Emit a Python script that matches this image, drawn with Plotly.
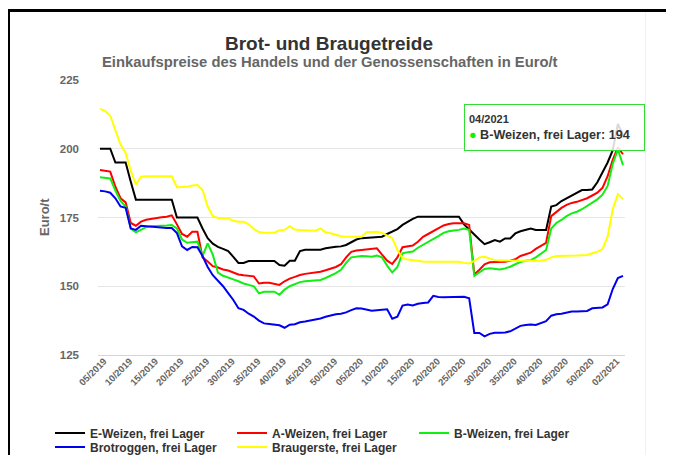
import plotly.graph_objects as go

# ---- categories (calendar weeks) ----
weeks = ([f"{w:02d}/2019" for w in range(5, 52)]
         + [f"{w:02d}/2020" for w in range(2, 54)]
         + [f"{w:02d}/2021" for w in range(1, 5)])

tick_labels = ["05/2019", "10/2019", "15/2019", "20/2019", "25/2019", "30/2019", "35/2019",
               "40/2019", "45/2019", "50/2019", "05/2020", "10/2020", "15/2020", "20/2020",
               "25/2020", "30/2020", "35/2020", "40/2020", "45/2020", "50/2020", "02/2021"]

y_ticks = [125, 150, 175, 200, 225]

e_weizen = [200, 200, 200, 195, 195, 195, 188, 181.5, 181.5, 181.5,
            181.5, 181.5, 181.5, 181.5, 181.5, 175, 175, 175, 175, 175,
            171, 167.5, 165.5, 164.3, 163.6, 162.8, 160.7, 158.5, 158.5, 159.2,
            159.2, 159.2, 159.2, 159.2, 159.2, 157.7, 157.5, 159.3, 159.3, 162.8,
            163.3, 163.3, 163.3, 163.3, 163.8, 164.2, 164.4, 164.5, 165, 166,
            167, 167.5, 167.6, 167.8, 168, 168, 169, 170, 170.8, 172.3,
            173.5, 174.5, 175.3, 175.3, 175.3, 175.3, 175.3, 175.3, 175.3, 175.3,
            175.3, 172.5, 170.5, 168.8, 167, 165.3, 166, 166.8, 166.2, 167.4,
            167.4, 169.2, 170, 170.5, 171, 170.5, 170.5, 170.5, 179, 179.5,
            181, 182, 183, 184, 185, 185, 185.2, 187.8, 191.5, 195,
            199.5, 209, 205]

a_weizen = [192.3, 192, 191.7, 186.2, 182, 180.5, 173, 172, 173.5, 174.2,
            174.5, 175, 175.1, 175.3, 175.8, 172.5, 169, 168, 169.8, 169.8,
            160.5, 159, 157.3, 156.8, 156.1, 155.7, 155.1, 154.3, 154, 153.8,
            153.6, 151, 151.3, 151.3, 151, 150.5, 151.8, 152.8, 153.4, 154.1,
            154.5, 154.7, 154.9, 155.3, 155.8, 156.3, 157, 158, 160.5, 162.5,
            163, 163.2, 163.4, 163.6, 163.8, 161.5, 159.3, 158.1, 160.5, 164.2,
            164.4, 164.8, 166.2, 168, 169, 170, 171.2, 172.1, 172.6, 172.9,
            172.9, 172.9, 172.3, 154.3, 156, 158, 158.7, 158.8, 158.9, 158.9,
            159.3, 159.8, 161, 161.7, 162.2, 163.6, 164.8, 165.8, 175.5, 177,
            178.5, 179.6, 180.3, 180.7, 181.3, 182, 183, 184, 185.8, 190,
            196, 200.5, 198]

b_weizen = [189.6, 189.5, 189.2, 184.8, 181, 179, 171, 169.6, 170.5, 171.5,
            171.8, 172, 172, 172.1, 172.3, 171, 167, 165.8, 165.9, 166.2,
            161, 165.6, 161.5, 155, 153.8, 153, 152.5, 151.8, 151, 150.5,
            150, 147.4, 148, 148, 148, 146.9, 148.8, 150, 150.8, 151.5,
            151.8, 152, 152, 152.3, 153, 153.8, 154.8, 156, 158.5, 160.5,
            160.8, 161, 160.9, 160.7, 161.2, 160.5, 157.5, 155, 157, 162,
            162.4, 162.6, 164, 165, 166, 167, 168.2, 169.4, 170, 170.3,
            170.5, 171, 170.5, 153.8, 155, 156.3, 156.5, 156.3, 156.1, 156.5,
            157.1, 158, 158.8, 159.3, 159.5, 160.5, 162, 163.2, 171, 173,
            174.1, 175.5, 176.5, 177.1, 178, 179.2, 180.2, 181.6, 183.3, 186.5,
            194.5, 199.8, 194]

brotroggen = [184.7, 184.5, 184, 182, 179, 178.5, 171, 170.5, 172, 171.8,
              171.6, 171.4, 171.3, 171.2, 171.2, 169.3, 164.5, 163.2, 164.3, 164.2,
              161, 157, 154, 152, 150, 147.5, 145, 142, 141.4, 140,
              139, 137.5, 136.5, 136.3, 136.1, 135.8, 134.9, 136, 136.2, 136.9,
              137.2, 137.5, 137.9, 138.3, 138.9, 139.4, 139.8, 140, 140.5, 141.3,
              142, 141.9, 141.5, 141.1, 141.3, 141.5, 141.6, 138.2, 138.9, 143,
              143.4, 143, 143.6, 143.9, 144.1, 146.5, 146.1, 146, 146, 146,
              146, 146.2, 145.6, 133, 133, 131.8, 132.7, 133.1, 133.1, 133.2,
              133.6, 134.6, 135.6, 135.9, 136.1, 135.9, 136.6, 137.3, 139.3, 139.8,
              140, 140.4, 140.8, 140.8, 140.8, 141, 142, 142.1, 142.3, 143.4,
              149, 153, 153.8]

braugerste = [214.5, 213.8, 212, 207, 201.5, 198.5, 192, 187, 189.8, 190,
              190, 190, 190, 190, 190, 186, 186, 186.2, 186.6, 186.8,
              185, 179, 175.5, 174.8, 174.7, 174.7, 173.8, 173.5, 173.5, 172.5,
              170.8, 169.7, 169.5, 169.5, 169.5, 170.4, 170.5, 171.8, 170.6, 170.5,
              170.4, 170.3, 170.2, 171, 169.6, 169.3, 168.8, 168.2, 168, 168,
              168, 168, 169.6, 169.8, 169.8, 169.4, 168.5, 167.5, 163.2, 160.3,
              159.7, 159.4, 159.2, 159, 158.9, 158.9, 158.9, 158.9, 158.9, 158.9,
              158.9, 158.5, 158.3, 159.2, 160.5, 160.7, 160, 159.5, 159.4, 159.3,
              159.3, 159.3, 159.3, 159.3, 159.3, 159.3, 159.3, 159.6, 160.5, 161,
              161, 161, 161, 161.2, 161.3, 161.4, 162, 162.6, 163.5, 168,
              178, 183.5, 181.6]

series_names = ["E-Weizen, frei Lager", "A-Weizen, frei Lager", "B-Weizen, frei Lager",
                "Brotroggen, frei Lager", "Braugerste, frei Lager"]
series_values = [e_weizen, a_weizen, b_weizen, brotroggen, braugerste]
series_colors = ["#000000", "#ff0000", "#11ee11", "#0000ee", "#ffff00"]

FONT = "Liberation Sans, Arial, sans-serif"

# The page body has an 8px margin, so the figure sits at (8, 8) in the window.
OFF = 8
W, H = 674 - OFF, 455 - OFF
# plot area in window pixels
L, R, T, B = 98, 625, 80, 355

def px(x):   # window x -> paper x
    return (x - L) / (R - L)
def py(y):   # window y -> paper y
    return (B - y) / (B - T)
def cx(x):   # window x -> container x
    return (x - OFF) / W
def cy(y):   # window y -> container y
    return 1 - (y - OFF) / H

# legend entry positions (window px): left edge of entry, vertical centre of row
legend_pos = [(50, 433), (232, 433), (414, 433), (50, 447), (232, 447)]

fig = go.Figure()
layout_legends = {}
for k, (name, vals, col, pos) in enumerate(zip(series_names, series_values, series_colors, legend_pos)):
    lid = "legend" if k == 0 else f"legend{k + 1}"
    fig.add_trace(go.Scatter(x=weeks, y=vals, mode="lines", name=name, legend=lid,
                             line=dict(color=col, width=2)))
    layout_legends[lid] = dict(
        orientation="h", xref="container", yref="container",
        x=cx(pos[0]), y=cy(pos[1]), xanchor="left", yanchor="middle",
        font=dict(family=FONT, size=12, color="#333333", weight="bold"),
        bgcolor="rgba(0,0,0,0)")

fig.update_layout(
    width=W, height=H,
    margin=dict(l=L - OFF, r=W - (R - OFF), t=T - OFF, b=H - (B - OFF), autoexpand=False),
    paper_bgcolor="white", plot_bgcolor="white",
    font=dict(family=FONT),
    showlegend=True,
    xaxis=dict(type="category", categoryorder="array", categoryarray=weeks,
               range=[-0.39, len(weeks) - 1 + 0.39],
               tickmode="array", tickvals=tick_labels, ticktext=tick_labels,
               tickangle=-45, ticks="", showgrid=False, automargin=False,
               ticklabelshift=4, ticklabelstandoff=-4,
               showline=True, linecolor="#ccd6eb", linewidth=1,
               tickfont=dict(family=FONT, size=9.5, color="#666666", weight="bold")),
    yaxis=dict(range=[125, 225], tickvals=y_ticks, showgrid=True, gridcolor="#e6e6e6",
               zeroline=False, ticks="", ticklabelstandoff=18, automargin=False,
               tickfont=dict(family=FONT, size=11.5, color="#666666", weight="bold")),
    **layout_legends,
)

# frame of the surrounding picture
fig.add_shape(type="line", xref="paper", yref="paper", x0=px(8.5), x1=px(8.5), y0=py(10), y1=py(470),
              line=dict(color="black", width=3))
fig.add_shape(type="line", xref="paper", yref="paper", x0=px(7), x1=px(690), y0=py(10.5), y1=py(10.5),
              line=dict(color="black", width=3))
fig.add_shape(type="line", xref="paper", yref="paper", x0=px(645.5), x1=px(645.5), y0=py(12), y1=py(460),
              line=dict(color="#f0f0f0", width=1))

# titles
fig.add_annotation(text="Brot- und Braugetreide", xref="paper", yref="paper",
                   x=px(329), y=py(43), xanchor="center", yanchor="middle", showarrow=False,
                   font=dict(family=FONT, size=19, color="#333333", weight="bold"))
fig.add_annotation(text="Einkaufspreise des Handels und der Genossenschaften in Euro/t",
                   xref="paper", yref="paper", x=px(330), y=py(62), xanchor="center",
                   yanchor="middle", showarrow=False,
                   font=dict(family=FONT, size=14.8, color="#666666", weight="bold"))
fig.add_annotation(text="Euro/t", xref="paper", yref="paper", x=px(44), y=py(217),
                   xanchor="center", yanchor="middle", textangle=-90, showarrow=False,
                   font=dict(family=FONT, size=13, color="#666666", weight="bold"))

# tooltip
fig.add_annotation(
    text=("<span style='font-size:11px'>04/2021</span><br>"
          "<span style='color:#11ee11'>●</span> B-Weizen, frei Lager: 194"),
    xref="paper", yref="paper", x=px(464), y=py(104), xanchor="left", yanchor="top",
    showarrow=False, align="left", valign="middle", width=171, height=37,
    bgcolor="rgba(255,255,255,0.85)", bordercolor="#33dd33", borderwidth=1, borderpad=4,
    font=dict(family=FONT, size=12.6, color="#333333", weight="bold"))

fig.write_html("out.html")
